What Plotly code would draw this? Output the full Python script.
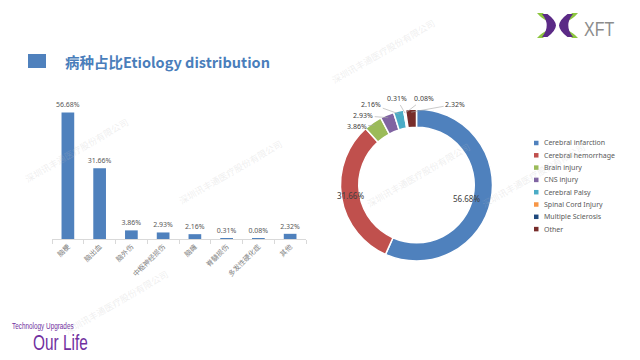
import math
import plotly.graph_objects as go

# ---- data ----
cn_categories = ["脑梗", "脑出血", "脑外伤", "中枢神经损伤", "脑瘫", "脊髓损伤", "多发性硬化症", "其他"]
en_categories = ["Cerebral infarction", "Cerebral hemorrhage", "Brain injury", "CNS injury",
                 "Cerebral Palsy", "Spinal Cord Injury", "Multiple Sclerosis", "Other"]
shares = [56.68, 31.66, 3.86, 2.93, 2.16, 0.31, 0.08, 2.32]

slice_colors = ["#4f81bd", "#c0504d", "#9bbb59", "#8064a2", "#4bacc6", "#f79646", "#1f497d", "#772c2a"]
bar_color = "#4f81bd"
W, H = 640, 360

fig = go.Figure()

# ---- bar chart ----
fig.add_trace(go.Bar(
    x=cn_categories, y=shares, marker_color=bar_color, width=0.4,
    marker_line_width=0,
    texttemplate="%{y:.2f}%", textposition="outside", cliponaxis=False,
    constraintext="none",
    textfont=dict(size=7, color="#595959", family="Noto Sans"),
    showlegend=False, xaxis="x", yaxis="y", hoverinfo="skip"))

# ---- donut ----
pie_cx, pie_cy, pie_r = 416.5, 185, 76
hole = 0.76
big = [s >= 10 for s in shares]
fig.add_trace(go.Pie(
    labels=en_categories, values=shares, sort=False, direction="clockwise", rotation=0,
    hole=hole,
    marker=dict(colors=slice_colors, line=dict(color="white", width=1.5)),
    textinfo="none",
    domain=dict(x=[(pie_cx - pie_r) / W, (pie_cx + pie_r) / W],
                y=[(H - pie_cy - pie_r) / H, (H - pie_cy + pie_r) / H]),
    showlegend=False, hoverinfo="label+percent"))

# slice labels (offsets in pixels from the slice edge)
label_offsets = {2: (-18, 1), 3: (-25, -2), 4: (-28, -10), 5: (-8, -14), 6: (18, -14), 7: (44, -8)}
total = sum(shares)
annotations = []
cum = 0.0
ring_mid = pie_r * (1 + hole) / 2
for i, s in enumerate(shares):
    mid = (cum + s / 2) / total * 2 * math.pi
    cum += s
    if big[i]:
        px = pie_cx + ring_mid * math.sin(mid)
        py = pie_cy - ring_mid * math.cos(mid)
        annotations.append(dict(x=px / W, y=1 - py / H, xref="paper", yref="paper",
                                showarrow=False, text=f"{s:.2f}%",
                                font=dict(size=8, color="#404040", family="Noto Sans")))
        continue
    rr = pie_r - 3
    px = pie_cx + rr * math.sin(mid)
    py = pie_cy - rr * math.cos(mid)
    dx, dy = label_offsets[i]
    annotations.append(dict(
        x=px / W, y=1 - py / H, xref="paper", yref="paper",
        ax=dx, ay=dy,
        text=f"{s:.2f}%", showarrow=True, arrowhead=0, arrowwidth=0.6,
        arrowcolor="#a6a6a6", standoff=0,
        font=dict(size=7, color="#404040", family="Noto Sans")))

# ---- manual legend ----
shapes = []
leg_x, leg_y0, leg_dy = 536, 143, 12.3
for i, (name, col) in enumerate(zip(en_categories, slice_colors)):
    cy = leg_y0 + i * leg_dy
    shapes.append(dict(type="rect", xref="paper", yref="paper",
                       x0=(leg_x - 2) / W, x1=(leg_x + 2.5) / W,
                       y0=1 - (cy + 2.25) / H, y1=1 - (cy - 2.25) / H,
                       fillcolor=col, line_width=0))
    annotations.append(dict(x=(leg_x + 6) / W, y=1 - cy / H, xref="paper", yref="paper",
                            xanchor="left", yanchor="middle", showarrow=False, text=name,
                            font=dict(size=7, color="#595959", family="Noto Sans")))

# ---- title ----
shapes.append(dict(type="rect", xref="paper", yref="paper",
                   x0=28 / W, x1=46 / W, y0=1 - 68 / H, y1=1 - 54 / H,
                   fillcolor="#4f81bd", line_width=0))
annotations.append(dict(x=63 / W, y=1 - 61 / H, xref="paper", yref="paper",
                        xanchor="left", yanchor="middle", showarrow=False,
                        text="<b>病种占比Etiology distribution</b>",
                        font=dict(size=14.5, color="#4a7ebb", family="Noto Sans CJK SC")))

# ---- logo ----
purple = "#5b2a86"
green = "#8dc63f"
left_parts = [
    (green, [("M", 537, 13), ("L", 543, 13), ("Q", 546.5, 17, 549, 22), ("Q", 541.5, 18.5, 537, 13)]),
    (green, [("M", 537, 38), ("L", 543, 38), ("Q", 546.5, 34, 549, 29.5), ("Q", 541.5, 32.5, 537, 38)]),
    (purple, [("M", 542, 14), ("L", 547.5, 14), ("Q", 555.5, 20, 556, 25.5), ("Q", 555.5, 31, 547.5, 37),
              ("L", 542, 37), ("Q", 551.5, 25.5, 542, 14)]),
]
axis_x = 557.5


def to_path(segs, mirror=False):
    parts = []
    for seg in segs:
        cmd, nums = seg[0], list(seg[1:])
        pts = []
        for k in range(0, len(nums), 2):
            x, y = nums[k], nums[k + 1]
            if mirror:
                x = 2 * axis_x - x
            pts.append(f"{x / W:.5f},{1 - y / H:.5f}")
        parts.append(cmd + " " + " ".join(pts))
    return " ".join(parts) + " Z"


for col, segs in left_parts:
    for mir in (False, True):
        shapes.append(dict(type="path", xref="paper", yref="paper", path=to_path(segs, mir),
                           fillcolor=col, line_width=0))
annotations.append(dict(x=582 / W, y=1 - 29 / H, xref="paper", yref="paper",
                        xanchor="left", yanchor="middle", showarrow=False, text="XFT",
                        font=dict(size=20, color="#8c8c8c", family="Liberation Sans")))

# ---- footer ----
annotations.append(dict(x=10 / W, y=1 - 326 / H, xref="paper", yref="paper",
                        xanchor="left", yanchor="middle", showarrow=False,
                        text="Technology Upgrades",
                        font=dict(size=8.5, color="#7030a0", family="Liberation Sans")))
annotations.append(dict(x=31 / W, y=1 - 342 / H, xref="paper", yref="paper",
                        xanchor="left", yanchor="middle", showarrow=False, text="Our Life",
                        font=dict(size=22, color="#7030a0", family="Liberation Sans")))

# ---- watermarks ----
wm = "深圳讯丰通医疗股份有限公司"
for (wx, wy) in [(230, 172), (418, 175), (440, 14), (590, 175), (20, 150), (60, 340)]:
    annotations.append(dict(x=wx / W, y=1 - wy / H, xref="paper", yref="paper",
                            showarrow=False, text=wm, textangle=-30,
                            font=dict(size=9, color="rgba(190,190,190,0.25)",
                                      family="Noto Sans CJK SC")))

fig.update_layout(
    width=W, height=H, margin=dict(l=0, r=0, t=0, b=0),
    paper_bgcolor="white", plot_bgcolor="white",
    font=dict(family="Noto Sans CJK SC"),
    showlegend=False,
    xaxis=dict(domain=[52 / W, 306 / W], anchor="y", tickangle=-45,
               tickfont=dict(size=7, color="#7f7f7f"),
               showline=True, linecolor="#d9d9d9", linewidth=1,
               ticks="outside", tickson="boundaries", ticklen=4, tickcolor="#d9d9d9",
               showgrid=False, fixedrange=True),
    yaxis=dict(domain=[1 - 239 / H, 1 - 105 / H], range=[0, 60], visible=False,
               showgrid=False, fixedrange=True),
    shapes=shapes, annotations=annotations,
)

post = """
document.body.style.margin='0';document.body.style.overflow='hidden';
var squeeze={'Our Life':0.7,'Technology Upgrades':0.75,'XFT':0.8};
document.querySelectorAll('.annotation-text').forEach(function(t){
  var k=squeeze[t.getAttribute('data-unformatted')];
  if(k){t.style.transformBox='fill-box';t.style.transformOrigin='left center';
        t.style.transform='scaleX('+k+')';}
});
"""
fig.write_html("out.html", config={"displayModeBar": False}, post_script=post)
